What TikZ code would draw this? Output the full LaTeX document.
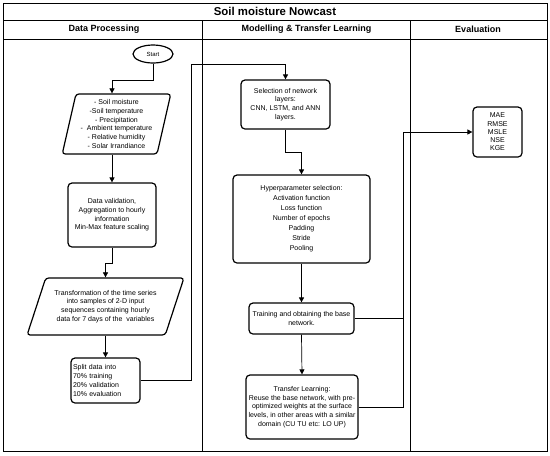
\documentclass[tikz,border=0pt]{standalone}
\usepackage{fontspec}
\setmainfont{Liberation Sans}
\usetikzlibrary{shapes.geometric,arrows.meta}

\begin{document}
\begin{tikzpicture}[x=1pt,y=-1pt]%
  \tikzstyle{txt}=[font=\fontsize{7}{8.7}\selectfont,align=center]
  \tikzstyle{boxn}=[txt,rectangle,rounded corners=4,draw,line width=1.2pt,inner sep=1]
  \tikzstyle{ion}=[txt,trapezium,trapezium stretches=true,rounded corners=3,draw,line width=1.2pt,inner sep=0]
  \tikzstyle{arr}=[-{Triangle[length=5pt,width=5pt]},line width=0.7pt]
  \tikzstyle{head}=[font=\bfseries\fontsize{9}{10}\selectfont]
  \useasboundingbox (0,0) rectangle (550,456);
  \draw[line width=0.7pt] (3,3) rectangle (547,451);
  \draw[line width=0.7pt] (3,20) -- (547,20) (3,39) -- (547,39) (202,20) -- (202,451) (410,20) -- (410,451);
  \node(title)[font=\bfseries\fontsize{11.4}{12}\selectfont] at (275,11.5) {Soil moisture Nowcast};
  \node(dp)[head] at (104,29.5) {Data Processing};
  \node(mt)[head] at (306.5,29.5) {Modelling \& Transfer Learning};
  \node(ev)[head] at (478,29.5) {Evaluation};
  \node(start)[ellipse,draw,line width=1.2pt,minimum width=40pt,minimum height=18pt,inner sep=0,font=\fontsize{6}{7}\selectfont] at (153,54) {Start};
  \node(vars)[ion,trapezium left angle=76,trapezium right angle=104,minimum width=109pt,minimum height=60pt] at (116.5,124)
    {- Soil moisture\\-Soil temperature\\- Precipitation\\-\ \ Ambient temperature\\- Relative humidity\\- Solar Irrandiance};
  \node(clean)[boxn,minimum width=88pt,minimum height=64pt] at (112,215)
    {Data validation,\\Aggregation to hourly\\information\\Min-Max feature scaling};
  \node(seq)[ion,trapezium left angle=64,trapezium right angle=116,minimum width=157pt,minimum height=57pt] at (105.5,306.5)
    {Transformation of the time series\\into samples of 2-D input\\sequences containing hourly\\data for 7 days of the\ \ variables};
  \node(split)[boxn,text width=65pt,align=left,inner sep=2,minimum height=45pt] at (105.5,380.5)
    {Split data into\\70\% training\\20\% validation\\10\% evaluation};
  \node(layers)[boxn,minimum width=89pt,minimum height=49pt] at (285.5,104.5)
    {Selection of network\\layers:\\CNN, LSTM, and ANN\\layers.};
  \node(hyper)[boxn,minimum width=137pt,minimum height=88pt,font=\fontsize{7}{10}\selectfont] at (301.5,219)
    {Hyperparameter selection:\\Activation function\\Loss function\\Number of epochs\\Padding\\Stride\\Pooling};
  \node(train)[boxn,minimum width=105pt,minimum height=31pt] at (301.5,318.5)
    {Training and obtaining the base\\network.};
  \node(tl)[boxn,minimum width=112pt,minimum height=64pt] at (302,407)
    {Transfer Learning:\\Reuse the base network, with pre-\\optimized weights at the surface\\levels, in other areas with a similar\\domain (CU TU etc: LO UP)};
  \node(metrics)[boxn,minimum width=49pt,minimum height=50pt,font=\fontsize{7}{8.3}\selectfont] at (497.5,132)
    {MAE\\RMSE\\MSLE\\NSE\\KGE};
  \coordinate(turn) at (191,64);
  \coordinate(evalbus) at (403,132);
  \draw[arr] (start.south) -- ++(0,17) -| (clean.north |- vars.north);
  \draw[arr] (clean.north |- vars.south) -- (clean.north);
  \draw[arr] (clean.south) -- ++(0,16) -| (split.north |- seq.north);
  \draw[arr] (split.north |- seq.south) -- (split.north);
  \draw[arr] (split.east) -| (turn) -| (layers.north);
  \draw[arr] (layers.south) -- ++(0,23) -| (hyper.north);
  \draw[arr] (hyper.south) -- (train.north);
  \draw[arr] (train.south) -- (tl.north);
  \draw[line width=0.7pt] (train.east) -- (train.east -| evalbus);
  \draw[arr] (tl.east) -| (evalbus) -- (metrics.west);
\end{tikzpicture}
\end{document}
